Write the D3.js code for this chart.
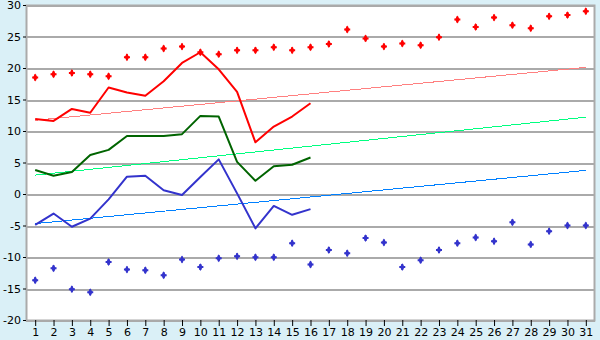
<!DOCTYPE html>
<meta charset="utf-8">
<style>
body { margin: 0; background: #daf0f7; }
svg { display: block; }
.axis text { font: 11px "DejaVu Sans", Verdana, sans-serif; fill: #000; }
.axis path { display: none; }
.axis line { stroke: #000; }
.grid line { stroke: #aaaaaa; shape-rendering: crispEdges; }
.line { fill: none; stroke-width: 2px; stroke-linejoin: round; }
.trend { fill: none; stroke-width: 1px; shape-rendering: crispEdges; }
</style>
<svg width="600" height="340"></svg>
<script src="https://d3js.org/d3.v7.min.js"></script>
<script>

var days = d3.range(1, 32);
var yTicks = [-20, -15, -10, -5, 0, 5, 10, 15, 20, 25, 30];

var redDots = [18.5, 19.0, 19.2, 19.0, 18.7, 21.7, 21.7, 23.1, 23.4, 22.5,
  22.2, 22.8, 22.8, 23.3, 22.8, 23.3, 23.8, 26.1, 24.7, 23.4,
  23.9, 23.6, 24.9, 27.7, 26.5, 28.0, 26.8, 26.3, 28.2, 28.4, 29.0];
var blueDots = [-13.7, -11.8, -15.1, -15.6, -10.8, -12.0, -12.1, -12.9, -10.4, -11.6,
  -10.2, -9.9, -10.05, -10.05, -7.8, -11.2, -8.9, -9.4, -7.0, -7.7,
  -11.6, -10.5, -8.9, -7.8, -6.9, -7.5, -4.5, -8.0, -5.9, -5.0, -5.0];

var redLine = [11.9, 11.6, 13.5, 12.9, 16.9, 16.1, 15.6, 17.9, 20.8, 22.5,
  19.8, 16.2, 8.2, 10.7, 12.3, 14.4];
var greenLine = [3.8, 2.9, 3.5, 6.2, 7.0, 9.2, 9.2, 9.2, 9.5, 12.4,
  12.3, 5.1, 2.1, 4.4, 4.65, 5.8];
var blueLine = [-4.9, -3.1, -5.2, -3.9, -0.85, 2.75, 2.9, 0.6, -0.15, 2.7,
  5.5, 0.1, -5.45, -1.9, -3.3, -2.4];

// trend lines: value at day 1 and day 31
var redTrend = [11.7, 20.1];
var greenTrend = [3.0, 12.2];
var blueTrend = [-4.7, 3.75];

var svg = d3.select("svg"),
    margin = {top: 5, right: 5, bottom: 20, left: 26},
    width = 600 - margin.left - margin.right,
    height = 340 - margin.top - margin.bottom,
    g = svg.append("g").attr("transform", "translate(" + margin.left + "," + margin.top + ")");

var x = d3.scalePoint().domain(days).range([0, width]).padding(0.5),
    y = d3.scaleLinear().domain([-20, 30]).range([height, 0]);

g.append("rect")
    .attr("width", width).attr("height", height)
    .attr("fill", "#fff");

g.append("g")
    .attr("class", "grid")
  .selectAll("line")
  .data(yTicks)
  .enter().append("line")
    .attr("x1", 0).attr("x2", width)
    .attr("y1", function(d) { return Math.round(y(d)) + 0.5; })
    .attr("y2", function(d) { return Math.round(y(d)) + 0.5; })
    .attr("stroke-width", 2);

g.append("rect")
    .attr("x", 0.5).attr("y", 0.5)
    .attr("width", width - 1).attr("height", height)
    .attr("fill", "none")
    .attr("stroke", "#aaaaaa")
    .attr("stroke-width", 2);

g.append("g")
    .attr("class", "axis")
    .attr("transform", "translate(0," + height + ")")
    .call(d3.axisBottom(x).tickSize(6).tickPadding(2));

g.append("g")
    .attr("class", "axis")
    .call(d3.axisLeft(y).tickValues(yTicks).tickSize(3).tickPadding(2)
      .tickFormat(function(d) { return String(d); }));

function trend(vals, color) {
  g.append("line")
      .attr("class", "trend")
      .attr("x1", x(1)).attr("y1", y(vals[0]))
      .attr("x2", x(31)).attr("y2", y(vals[1]))
      .attr("stroke", color);
}
trend(redTrend, "#ff8080");
trend(greenTrend, "#00ff80");
trend(blueTrend, "#0080ff");

var line = d3.line()
    .x(function(d, i) { return x(i + 1); })
    .y(function(d) { return y(d); });

[[redLine, "#ff0000"], [greenLine, "#006400"], [blueLine, "#3333cc"]].forEach(function(s) {
  g.append("path")
      .attr("class", "line")
      .attr("d", line(s[0]))
      .attr("stroke", s[1]);
});

var cross = d3.symbol().type(d3.symbolCross).size(20),
    diamond = d3.symbol().type(d3.symbolDiamond).size(18);

function dots(vals, color) {
  var pt = g.append("g").selectAll("g")
    .data(vals)
    .enter().append("g")
      .attr("transform", function(d, i) { return "translate(" + x(i + 1) + "," + y(d) + ")"; })
      .attr("fill", color);
  pt.append("path").attr("d", cross);
  pt.append("path").attr("d", diamond);
}
dots(redDots, "#ff0000");
dots(blueDots, "#3333cc");

</script>
